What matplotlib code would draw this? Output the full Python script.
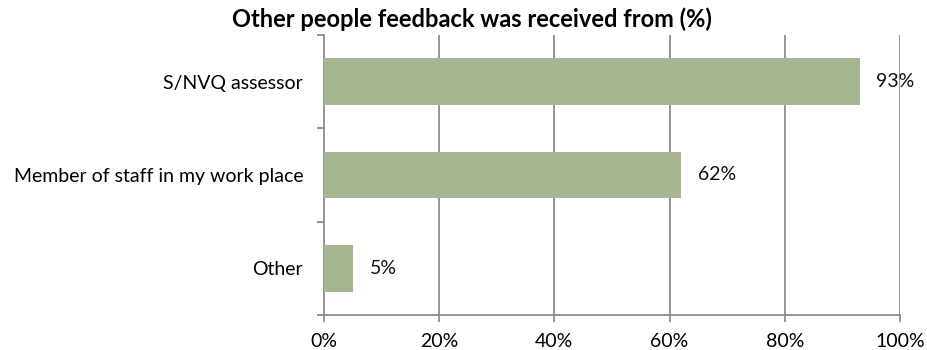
import matplotlib.pyplot as plt
import numpy as np

plt.rcParams["font.family"] = ["Lato", "DejaVu Sans"]

categories = ["S/NVQ assessor", "Member of staff in my work place", "Other"]
values = [93, 62, 5]
xticks = [0, 20, 40, 60, 80, 100]

BAR_COLOR = "#a6b592"
GRID_COLOR = "#8c8c8c"

fig = plt.figure(figsize=(9.28, 3.5), dpi=100)
ax = fig.add_axes([324 / 928, 35 / 350, 576 / 928, 280 / 350])

y = np.arange(len(categories))[::-1]
ax.barh(y, values, height=0.5, color=BAR_COLOR, zorder=3)

for yi, v in zip(y, values):
    ax.annotate(f"{v}%", (v, yi), xytext=(12, 0), textcoords="offset points",
                va="center", ha="left", fontsize=14, color="#111111", zorder=4)

ax.set_xlim(0, 100)
ax.set_ylim(-0.5, len(categories) - 0.5)
ax.set_xticks(xticks)
ax.set_xticklabels([f"{t}%" for t in xticks], fontsize=14)
ax.set_yticks(y)
ax.set_yticklabels(categories, fontsize=14)
ax.tick_params(axis="y", length=0, pad=15)
ax.tick_params(axis="x", length=5, color=GRID_COLOR, width=1.3, pad=8)

# category boundary ticks on the y axis
ax.set_yticks(np.arange(-0.5, len(categories)), minor=True)
ax.tick_params(axis="y", which="minor", length=5, color=GRID_COLOR, width=1.3)

for t in xticks[1:]:
    ax.axvline(t, color=GRID_COLOR, linewidth=1.3, zorder=1)

for side in ("top", "right"):
    ax.spines[side].set_visible(False)
for side in ("left", "bottom"):
    ax.spines[side].set_color(GRID_COLOR)
    ax.spines[side].set_linewidth(1.3)

fig.text(472 / 928, 1 - 19 / 350, "Other people feedback was received from (%)",
         ha="center", va="center", fontsize=17, fontweight="bold")

fig.savefig("out.png", dpi=100)
